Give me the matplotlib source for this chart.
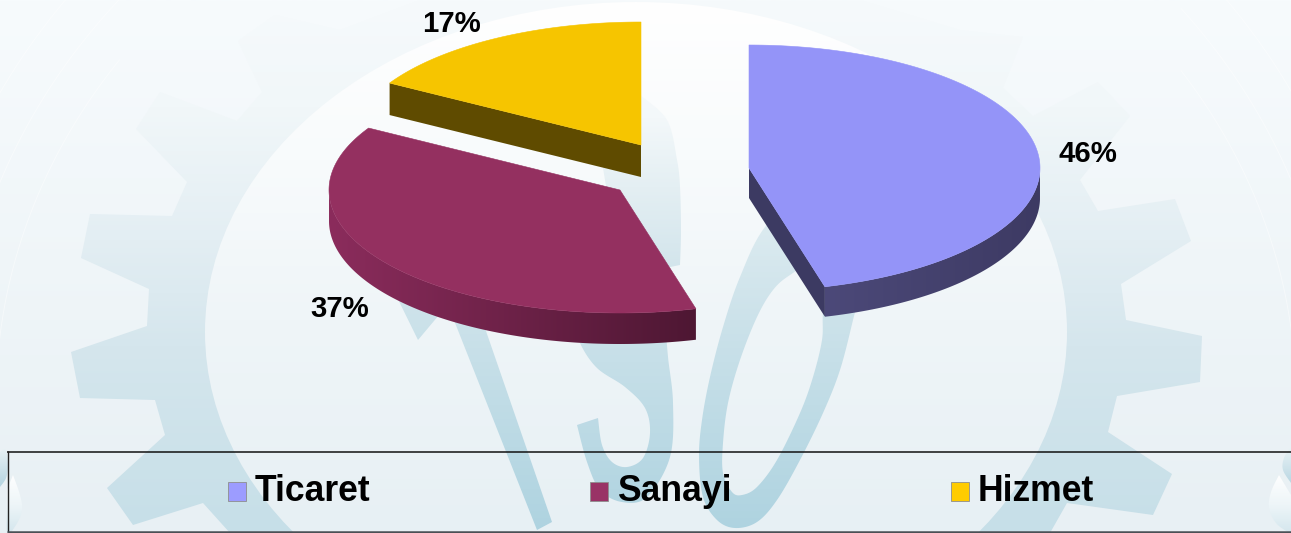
import numpy as np
import matplotlib
matplotlib.use("Agg")
import matplotlib.pyplot as plt
from matplotlib.patches import Polygon, Ellipse, PathPatch, Rectangle
from matplotlib.path import Path
from matplotlib.colors import to_rgb

# ---- data ----
categories = ["Ticaret", "Sanayi", "Hizmet"]
shares = [45.8, 37.6, 16.6]
labels = ["46%", "37%", "17%"]
top_colors = ["#9494F8", "#943060", "#F6C500"]
legend_colors = ["#9C9CFF", "#993366", "#FFCC00"]

# ---- layout / style ----
W, H = 1291, 533
apexes = [(749, 168), (620, 190), (641, 145)]
depths = [30, 31, 32]
RX, RY = 291, 123
side_left = ["#4C4979", "#8B2C5C", "#665000"]
side_right = ["#3D3A63", "#4E1733", "#665000"]
radial_side = ["#3C3A62", "#4E1733", "#5F4B00"]
label_pos = [(1088, 162), (340, 317), (452, 32)]
legend_mark_x = [228, 590, 951]
legend_text_x = [255, 617, 978]

plt.rcParams["font.family"] = ["Liberation Sans", "DejaVu Sans"]
fig = plt.figure(figsize=(W / 100, H / 100), dpi=100)
ax = fig.add_axes([0, 0, 1, 1])


def gradient(stops):
    ys = np.linspace(0, 1, 256)
    pos = [s[0] for s in stops]
    cols = np.array([to_rgb(s[1]) for s in stops])
    return np.stack([np.interp(ys, pos, cols[:, i]) for i in range(3)], axis=1)[:, None, :]


def grad_fill(patch, stops, z):
    patch.set(facecolor="none", edgecolor="none", transform=ax.transData)
    ax.add_patch(patch)
    im = ax.imshow(gradient(stops), extent=[0, W, H, 0], aspect="auto", zorder=z, interpolation="bilinear")
    im.set_clip_path(patch)


def smooth(pts, n=14, closed=False):
    p = np.array(pts, float)
    q = np.vstack([p[-1], p, p[0], p[1]]) if closed else np.vstack([p[0], p, p[-1]])
    out = []
    for i in range(1, len(q) - 2):
        for t in np.linspace(0, 1, n, endpoint=False):
            out.append(0.5 * (2 * q[i] + (q[i + 1] - q[i - 1]) * t
                              + (2 * q[i - 1] - 5 * q[i] + 4 * q[i + 1] - q[i + 2]) * t ** 2
                              + (3 * q[i] - q[i - 1] - 3 * q[i + 1] + q[i + 2]) * t ** 3))
    if not closed:
        out.append(p[-1])
    return np.array(out)


# background
ax.imshow(gradient([(0, "#F7FBFD"), (1, "#E8F0F4")]), extent=[0, W, H, 0], aspect="auto", zorder=0)

# faint arcs at the sides
th = np.linspace(0, 2 * np.pi, 1500)
for rx, ry in [(650, 580), (690, 620), (730, 660)]:
    ax_x, ax_y = 646 + rx * np.cos(th), 400 + ry * np.sin(th)
    mask = ((ax_x < 120) | (ax_x > 1180)) & (ax_y < 445)
    ax_x = np.where(mask, ax_x, np.nan)
    ax.plot(ax_x, ax_y, color="white", lw=0.7, alpha=0.45, zorder=0.5)

# gear
gear = [(230, 533), (203, 503), (133, 525), (107, 488), (165, 435), (155, 400), (80, 398), (71, 352),
        (147, 326), (149, 289), (81, 258), (90, 214), (172, 216), (187, 182), (136, 129), (160, 92),
        (237, 121), (262, 92), (238, 41), (275, 15), (340, 30), (420, 0), (860, 0), (960, 30), (1023, 37),
        (1003, 88), (1033, 116), (1098, 82), (1130, 116), (1080, 180), (1098, 211), (1175, 199),
        (1191, 241), (1121, 284), (1126, 320), (1202, 336), (1200, 382), (1117, 396), (1108, 432),
        (1172, 474), (1153, 515), (1067, 503), (1050, 533)]
grad_fill(Polygon(gear, closed=True),
          [(0, "#F6FAFC"), (0.2, "#F1F7F9"), (0.45, "#E3EEF3"), (0.65, "#D5E6ED"), (1, "#C6DFE8")], 1)

# inner disc of the gear
grad_fill(Ellipse((636, 332), 862, 660),
          [(0, "#FFFFFF"), (0.3, "#F8FBFC"), (0.6, "#EFF5F8"), (1, "#E7F0F4")], 2)

letter_stops = [(0, "#F6FAFC"), (0.22, "#EEF5F8"), (0.42, "#DCEBF0"), (0.6, "#CCE2EA"), (1, "#AED3E0")]

# I
grad_fill(Polygon([(444, 295), (477, 305), (552, 522), (537, 530)]), letter_stops, 3)
grad_fill(Polygon([(391, 285), (418, 340), (460, 290)]), letter_stops, 3)

# S, lower part
s_out = smooth([(598, 418), (602, 445), (612, 462), (627, 467), (643, 458), (650, 433), (645, 408),
                (625, 387), (597, 368), (580, 343), (575, 320)])
s_in = smooth([(665, 320), (668, 357), (673, 403), (670, 457), (647, 497), (622, 502), (600, 490),
               (587, 462), (577, 425)])
grad_fill(Polygon(np.vstack([s_out, s_in]), closed=True), letter_stops, 3)

# S, upper part
s_top = smooth([(640, 95), (667, 120), (677, 160), (680, 187), (681, 230), (680, 265)])
grad_fill(Polygon(np.vstack([s_top, [(670, 267), (620, 270), (600, 150)]]), closed=True),
          [(0, "#FFFFFF"), (0.22, "#F3F8FA"), (0.35, "#E4EFF3"), (0.5, "#D3E5EC"), (1, "#AED3E0")], 3)

# O
o_outer = smooth([(735, 528), (717, 520), (703, 497), (699, 457), (702, 420), (710, 377), (723, 327),
                  (740, 277), (765, 227), (810, 185), (850, 190), (865, 240), (858, 297), (853, 320),
                  (840, 370), (823, 413), (800, 460), (777, 500), (757, 522)], closed=True)
o_inner = smooth([(742, 495), (732, 492), (723, 473), (723, 443), (728, 403), (740, 360), (757, 317),
                  (773, 290), (790, 275), (815, 262), (828, 280), (823, 313), (822, 340), (813, 377),
                  (800, 413), (777, 460), (757, 487)], closed=True)[::-1]
verts = np.vstack([o_outer, o_outer[0], o_inner, o_inner[0]])
codes = ([Path.MOVETO] + [Path.LINETO] * (len(o_outer) - 1) + [Path.CLOSEPOLY]
         + [Path.MOVETO] + [Path.LINETO] * (len(o_inner) - 1) + [Path.CLOSEPOLY])
grad_fill(PathPatch(Path(verts, codes)), letter_stops, 3)

# droplets at the bottom corners
blob_stops = [(0, "#F0F6F9"), (0.84, "#EAF3F6"), (0.91, "#B8D6E2"), (1, "#B8D6E2")]
drop_stops = [(0, "#FFFFFF"), (0.89, "#FFFFFF"), (0.95, "#EDF5F8"), (1, "#D5E7EE")]
grad_fill(Polygon(smooth([(0, 452), (6, 450), (8, 465), (6, 478), (0, 487)]), closed=True), blob_stops, 3.5)
grad_fill(Polygon(smooth([(13, 475), (20, 495), (22, 510), (16, 525), (7, 532), (7, 490)]), closed=True),
          drop_stops, 3.5)
grad_fill(Polygon(smooth([(1291, 447), (1284, 458), (1283, 470), (1291, 483)]), closed=True), blob_stops, 3.5)
grad_fill(Polygon(smooth([(1279, 475), (1271, 492), (1269, 508), (1276, 523), (1288, 532), (1291, 532),
                          (1291, 495)]), closed=True), drop_stops, 3.5)

# ---- pie ----
fractions = np.array(shares, float) / np.sum(shares)
ends = np.cumsum(fractions) * 2 * np.pi
starts = ends - fractions * 2 * np.pi


def rim(center, ang):
    return center[0] + RX * np.sin(ang), center[1] - RY * np.cos(ang)


z = 5
for i in [2, 1, 0]:
    c, d = apexes[i], depths[i]
    a0, a1 = starts[i], ends[i]
    ang = np.linspace(a0, a1, 181)
    xs, ys = rim(c, ang)

    # radial cut faces that look toward the viewer
    if i == 0:
        ex, ey = rim(c, a1)
        ax.fill([c[0], ex, ex, c[0]], [c[1], ey, ey + d, c[1] + d], color=radial_side[i], lw=0, zorder=z)
    if i == 2:
        ex, ey = rim(c, a0)
        ax.fill([c[0], ex, ex, c[0]], [c[1], ey, ey + d, c[1] + d], color=radial_side[i], lw=0, zorder=z)

    # outer rim, only where it faces the viewer (lower half of the ellipse)
    vis = (ang > np.pi / 2) & (ang < 3 * np.pi / 2)
    if vis.sum() > 1:
        vx, vy = xs[vis], ys[vis]
        side = Polygon(np.column_stack([np.r_[vx, vx[::-1]], np.r_[vy, vy[::-1] + d]]), closed=True,
                       facecolor="none", edgecolor="none")
        ax.add_patch(side)
        cl, cr = np.array(to_rgb(side_left[i])), np.array(to_rgb(side_right[i]))
        row = np.linspace(0, 1, 256)[None, :, None] * (cr - cl) + cl
        im = ax.imshow(row, extent=[vx.min(), vx.max(), H, 0], aspect="auto", zorder=z, interpolation="bilinear")
        im.set_clip_path(side)

    # top face
    ax.fill(np.r_[c[0], xs], np.r_[c[1], ys], color=top_colors[i], lw=0.4, zorder=z + 0.5)
    ax.text(*label_pos[i], labels[i], fontsize=21.2, fontweight="bold", color="black",
            ha="center", va="baseline", zorder=10)
    z += 1

# ---- legend ----
ax.plot([7, W], [451.5, 451.5], color="#111111", lw=1.1, zorder=8, solid_capstyle="butt")
ax.plot([7.5, 7.5], [451, 532], color="#222222", lw=1.0, zorder=8, solid_capstyle="butt")
ax.plot([7, W], [532, 532], color="#4A5055", lw=1.8, zorder=8, solid_capstyle="butt")
for i, name in enumerate(categories):
    ax.add_patch(Rectangle((legend_mark_x[i], 482), 18, 18.5, facecolor=legend_colors[i],
                           edgecolor="#8E8E8E", lw=0.6, zorder=9))
    ax.text(legend_text_x[i], 501, name, fontsize=25.6, fontweight="bold", color="black",
            ha="left", va="baseline", zorder=10)

ax.set_xlim(0, W)
ax.set_ylim(H, 0)
ax.axis("off")
fig.savefig("out.png", dpi=100)
